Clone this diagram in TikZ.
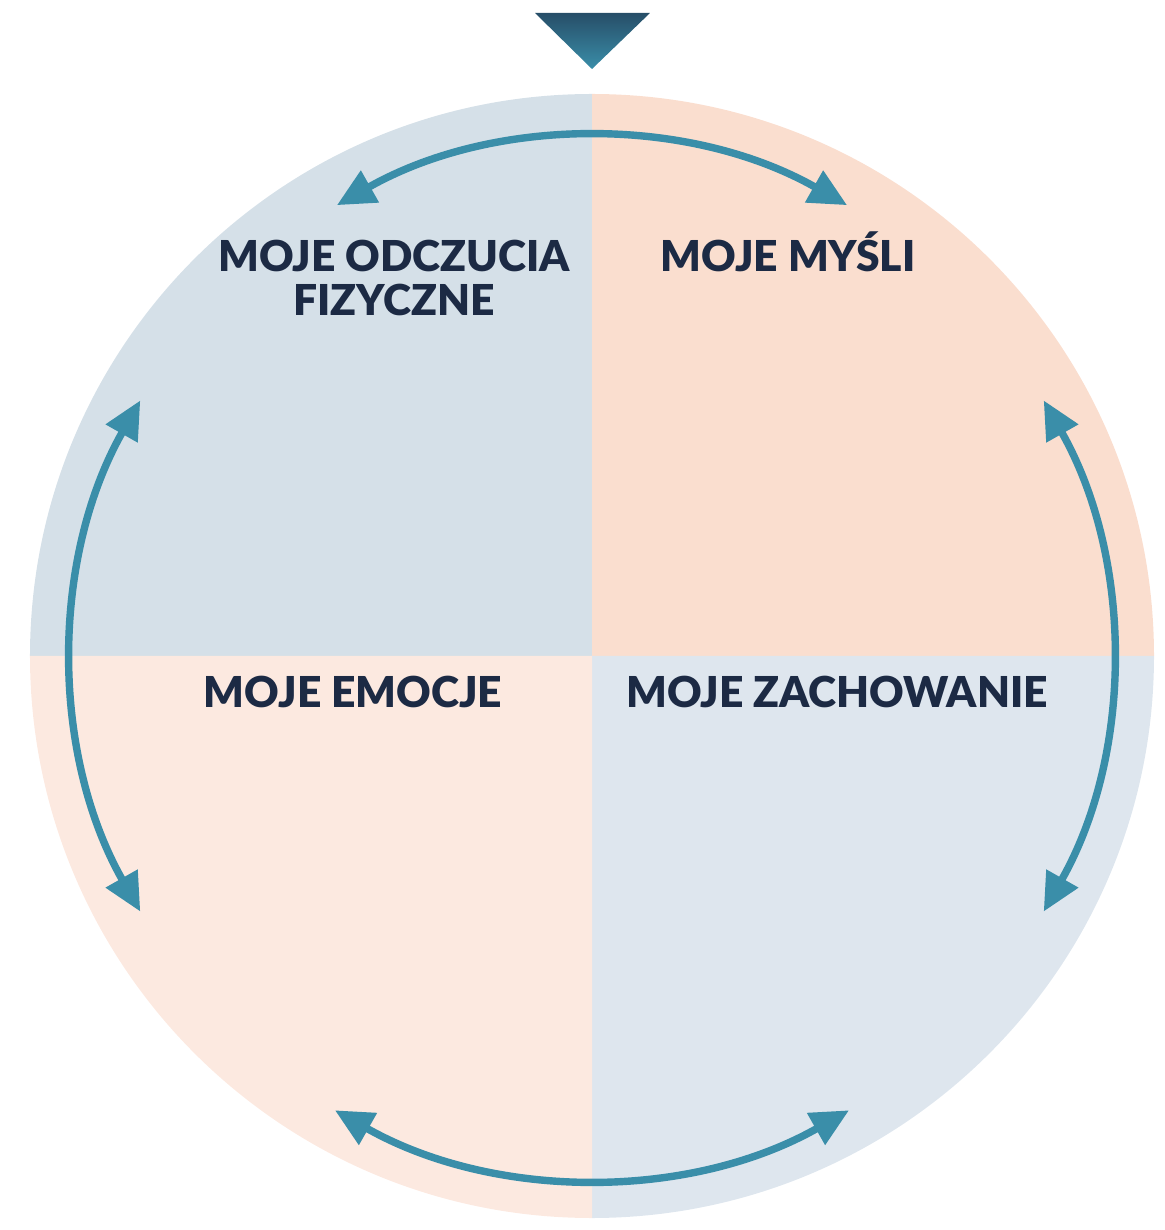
\documentclass[tikz,border=0pt]{standalone}
\usepackage{fontspec}
\setmainfont{Lato}[BoldFont={Lato Black}]
\usetikzlibrary{arrows.meta}
\definecolor{navy}{HTML}{1C2A44}
\definecolor{teal}{HTML}{3A8EA9}
\definecolor{tealdark}{HTML}{274E68}
\definecolor{greytl}{HTML}{D5E0E8}
\definecolor{greybr}{HTML}{DEE6EE}
\definecolor{peachtr}{HTML}{FADECF}
\definecolor{peachbl}{HTML}{FCE9E0}

\begin{document}
\begin{tikzpicture}
    [x=0.5pt, y=0.5pt,
    cycle arrow/.style={teal, line width=3.7pt, {Triangle[length=19pt, width=17.5pt]}-{Triangle[length=19pt, width=17.5pt]}},
    label/.style={text=navy, font=\fontsize{21.3}{22}\selectfont\bfseries, align=center, anchor=base, inner sep=0pt}]
     \useasboundingbox (-592,-574) rectangle (572,656);
     % quadrants of the circle
     \fill[greytl]  (0,0) -- (180:562) arc (180:90:562) -- cycle;
     \fill[peachtr] (0,0) -- (90:562) arc (90:0:562) -- cycle;
     \fill[greybr]  (0,0) -- (0:562) arc (0:-90:562) -- cycle;
     \fill[peachbl] (0,0) -- (-90:562) arc (-90:-180:562) -- cycle;
     % start marker
     \shade[top color=tealdark, bottom color=teal] (-57,643) -- (58,643) -- (0,587) -- cycle;
     % arc ends
     \coordinate (tl) at (119.5:518);
     \coordinate (tr) at (60.5:518);
     \coordinate (lt) at (150.5:519);
     \coordinate (lb) at (209.5:519);
     \coordinate (rt) at (29.5:519);
     \coordinate (rb) at (-29.5:519);
     \coordinate (bl) at (240.5:522);
     \coordinate (br) at (299.5:522);
     \draw[cycle arrow] (tl) arc (119.5:60.5:518);
     \draw[cycle arrow] (lt) arc (150.5:209.5:519);
     \draw[cycle arrow] (rb) arc (-29.5:29.5:519);
     \draw[cycle arrow] (bl) arc (240.5:299.5:522);
     % labels
     \node[label] (body)     at (-198,340) {MOJE ODCZUCIA\\FIZYCZNE};
     \node[label] (thoughts) at (196,384)  {MOJE MYŚLI};
     \node[label] (emotions) at (-239,-52) {MOJE EMOCJE};
     \node[label] (behaviour) at (245,-52) {MOJE ZACHOWANIE};
\end{tikzpicture}
\end{document}
